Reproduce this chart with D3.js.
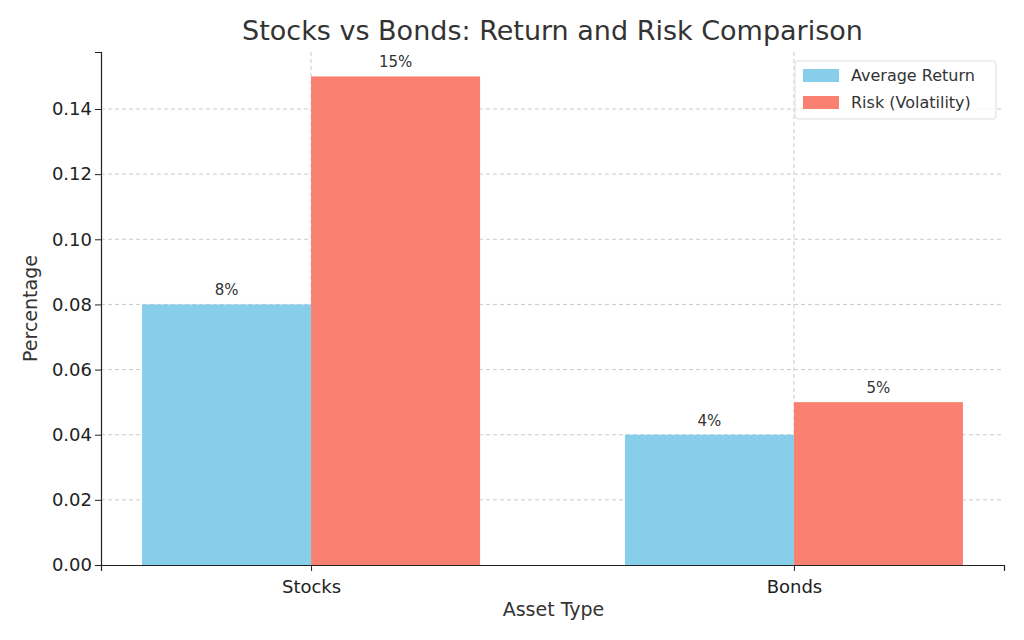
<!DOCTYPE html>
<html><head><meta charset="utf-8">
<script src="https://cdn.jsdelivr.net/npm/d3@7"></script>
<style>body{margin:0;background:#fff}text{font-family:"DejaVu Sans",sans-serif;fill:#333}</style>
</head><body><svg id="c" width="1024" height="640"></svg>
<script>
// Daten
const kategorien = ["Stocks", "Bonds"];
const rendite = [0.08, 0.04];
const risiko = [0.15, 0.05];
const serien = ["Average Return", "Risk (Volatility)"];
const farben = ["#87CEEB", "#FA8072"];
const yTicks = [0, 0.02, 0.04, 0.06, 0.08, 0.10, 0.12, 0.14];

const svg = d3.select("#c");
const L = 101, R = 1004, T = 52, B = 565;
const x = d3.scaleLinear().domain([-0.435, 1.435]).range([L, R]);
const y = d3.scaleLinear().domain([0, 0.1575]).range([B, T]);
const w = 0.35;

// Gitter
svg.selectAll(".gy").data(yTicks.slice(1)).enter().append("line")
  .attr("x1", L).attr("x2", R).attr("y1", d => y(d)).attr("y2", d => y(d))
  .attr("stroke", "#ccc").attr("stroke-dasharray", "4,3");
svg.selectAll(".gx").data(kategorien).enter().append("line")
  .attr("x1", (d, i) => x(i)).attr("x2", (d, i) => x(i)).attr("y1", T).attr("y2", B)
  .attr("stroke", "#ccc").attr("stroke-dasharray", "4,3");

// Balken
const reihen = [rendite, risiko];
reihen.forEach(function (werte, s) {
  const off = s === 0 ? -w : 0;
  svg.selectAll(".b" + s).data(werte).enter().append("rect")
    .attr("x", (d, i) => x(i + off)).attr("width", x(w) - x(0))
    .attr("y", d => y(d)).attr("height", d => B - y(d)).attr("fill", farben[s]);
  svg.selectAll(".t" + s).data(werte).enter().append("text")
    .attr("x", (d, i) => x(i + off + w / 2)).attr("y", d => y(d) - 9)
    .attr("text-anchor", "middle").attr("font-size", 15)
    .text(d => Math.round(d * 100) + "%");
});

// Achsen
const ay = svg.append("g").attr("transform", `translate(${L},0)`)
  .call(d3.axisLeft(y).tickValues(yTicks).tickFormat(d3.format(".2f")).tickSize(6));
const ax = svg.append("g").attr("transform", `translate(0,${B})`)
  .call(d3.axisBottom(x).tickValues([0, 1]).tickFormat((d, i) => kategorien[i]).tickSize(6));
[ay, ax].forEach(g => {
  g.selectAll("text").attr("font-size", 18).style("fill", "#222");
  g.select(".domain").attr("stroke", "#222").attr("stroke-width", 1.2);
  g.selectAll(".tick line").attr("stroke", "#222");
});
ax.selectAll(".tick text").attr("dy", "1.05em");

svg.append("text").attr("x", (L + R) / 2).attr("y", 40).attr("text-anchor", "middle")
  .attr("font-size", 27).text("Stocks vs Bonds: Return and Risk Comparison");
svg.append("text").attr("x", (L + R) / 2 + 1).attr("y", 616).attr("text-anchor", "middle")
  .attr("font-size", 19).text("Asset Type");
svg.append("text").attr("transform", `translate(37,${(T + B) / 2}) rotate(-90)`)
  .attr("text-anchor", "middle").attr("font-size", 19).text("Percentage");

// Legende
const lg = svg.append("g").attr("transform", "translate(795,61)");
lg.append("rect").attr("width", 201).attr("height", 58).attr("rx", 3)
  .attr("fill", "#fff").attr("fill-opacity", 0.8).attr("stroke", "#ddd");
serien.forEach(function (s, i) {
  lg.append("rect").attr("x", 8).attr("y", 8 + i * 27).attr("width", 36).attr("height", 13).attr("fill", farben[i]);
  lg.append("text").attr("x", 56).attr("y", 20 + i * 27).attr("font-size", 16).text(s);
});
</script></body></html>
